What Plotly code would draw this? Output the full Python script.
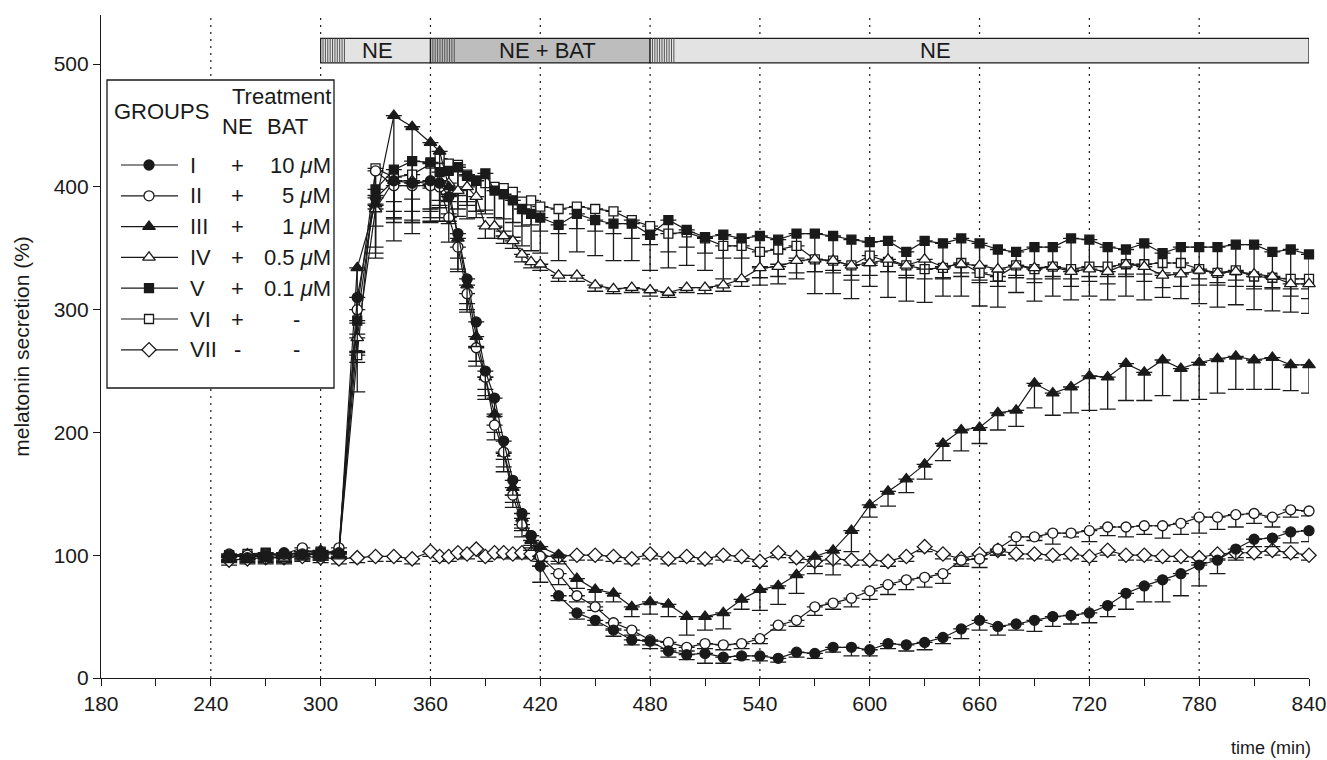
import plotly.graph_objects as go

# ---------------- data ----------------
times = ([250, 260, 270, 280, 290, 300, 310, 320, 330, 340, 350, 360]
         + list(range(365, 421, 5)) + list(range(430, 841, 10)))

grp_I = [100, 98, 100, 102, 101, 100, 102, 310, 391, 405, 403, 405,
         403, 392, 362, 325, 290, 250, 228, 193, 161, 134, 116, 91,
         67, 53, 47, 39, 31, 30, 22, 19, 20, 17, 18, 18, 16, 21, 20, 25, 25, 23,
         28, 27, 29, 33, 40, 47, 42, 44, 47, 50, 51, 53, 59, 69, 75, 80, 85, 92, 96, 105, 113, 114, 119, 120]
err_I = [4, 4, 4, 4, 4, 4, 4, 30, 40, 25, 30, 25,
         20, 20, 20, 20, 20, 15, 15, 15, 12, 12, 10, 13,
         4, 5, 4, 5, 4, 6, 5, 4, 8, 5, 3, 4, 3, 4, 4, 4, 7, 5,
         4, 5, 6, 5, 8, 8, 7, 5, 9, 8, 7, 8, 9, 13, 13, 18, 18, 17, 11, 9, 6, 7, 9, 9]

grp_II = [101, 100, 101, 101, 106, 99, 106, 300, 413, 401, 401, 401,
          400, 375, 351, 313, 269, 245, 206, 184, 149, 125, 116, 99,
          85, 67, 58, 45, 39, 31, 29, 25, 28, 27, 28, 32, 43, 47, 58, 61, 65, 71,
          76, 80, 82, 85, 96, 97, 105, 115, 115, 118, 118, 120, 123, 123, 124, 124, 126, 131, 131, 133, 134, 131, 137, 136]
err_II = [3, 3, 3, 3, 3, 3, 3, 35, 20, 30, 30, 30,
          25, 20, 20, 15, 15, 15, 12, 12, 10, 10, 8, 8,
          9, 5, 3, 5, 4, 4, 5, 3, 4, 4, 4, 4, 4, 5, 7, 5, 7, 7,
          8, 8, 8, 8, 5, 7, 5, 7, 3, 9, 3, 9, 7, 8, 7, 10, 9, 13, 10, 10, 8, 8, 6, 4]

grp_III = [99, 101, 97, 100, 103, 104, 101, 334, 386, 458, 449, 436,
           429, 400, 358, 320, 278, 245, 215, 183, 155, 130, 112, 107,
           100, 81, 72, 69, 58, 62, 60, 50, 50, 53, 64, 72, 75, 84, 99, 104, 120, 141,
           152, 162, 174, 191, 202, 204, 216, 218, 240, 232, 237, 246, 245, 256, 249, 259, 252, 257, 260, 262, 259, 261, 255, 255]
err_III = [4, 4, 4, 4, 4, 4, 4, 45, 40, 102, 87, 64,
           40, 30, 25, 20, 20, 18, 15, 15, 12, 10, 8, 8,
           7, 8, 10, 7, 8, 10, 10, 15, 11, 13, 8, 17, 15, 15, 14, 20, 17, 10,
           12, 11, 12, 14, 17, 13, 14, 13, 20, 18, 21, 28, 26, 30, 23, 29, 26, 30, 28, 27, 24, 26, 21, 23]

grp_IV = [98, 100, 99, 97, 100, 101, 103, 277, 382, 405, 405, 402,
          405, 403, 397, 400, 392, 368, 368, 360, 356, 345, 339, 337,
          328, 328, 320, 317, 318, 316, 314, 318, 318, 320, 325, 334, 335, 340, 341, 340, 336, 338,
          341, 336, 341, 335, 337, 336, 333, 336, 334, 335, 331, 333, 331, 337, 335, 328, 329, 332, 330, 331, 329, 327, 321, 321]
err_IV = [4, 4, 4, 4, 4, 4, 4, 20, 40, 30, 25, 20,
          20, 15, 15, 12, 12, 10, 10, 6, 6, 6, 5, 5,
          5, 5, 5, 4, 4, 5, 4, 4, 5, 5, 6, 8, 8, 10, 10, 10, 12, 10,
          10, 10, 8, 10, 10, 12, 10, 10, 12, 10, 12, 10, 10, 10, 12, 10, 10, 12, 10, 12, 12, 10, 10, 12]

grp_V = [100, 99, 101, 99, 101, 102, 102, 291, 398, 414, 421, 420,
         412, 413, 416, 409, 405, 411, 397, 394, 389, 382, 378, 375,
         369, 378, 373, 370, 370, 361, 373, 365, 359, 361, 358, 360, 357, 362, 362, 360, 357, 355,
         356, 347, 356, 354, 358, 354, 349, 347, 351, 351, 358, 357, 351, 349, 354, 346, 351, 351, 351, 353, 353, 347, 349, 345]
err_V = [4, 4, 4, 4, 4, 4, 4, 25, 30, 40, 50, 45,
         40, 35, 40, 35, 30, 30, 30, 30, 30, 30, 30, 29,
         29, 31, 29, 30, 30, 29, 39, 29, 27, 36, 34, 40, 36, 37, 49, 47, 48, 36,
         46, 40, 50, 43, 47, 51, 47, 33, 44, 40, 50, 46, 43, 38, 46, 36, 42, 46, 49, 49, 53, 48, 51, 48]

grp_VI = [99, 101, 102, 99, 103, 103, 102, 263, 415, 408, 410, 419,
          423, 419, 418, 410, 405, 403, 400, 399, 396, 388, 389, 384,
          382, 384, 382, 380, 373, 368, 362, 363, 358, 352, 352, 347, 349, 352, 341, 340, 336, 344,
          339, 336, 333, 334, 338, 330, 327, 336, 333, 335, 333, 335, 335, 337, 337, 338, 338, 333, 330, 332, 327, 326, 325, 325]
err_VI = [4, 4, 4, 4, 4, 4, 4, 30, 30, 20, 20, 20,
          25, 25, 25, 25, 25, 25, 25, 25, 25, 20, 20, 20,
          20, 18, 18, 18, 15, 15, 15, 12, 12, 10, 10, 12, 12, 10, 10, 8, 8, 8,
          8, 8, 8, 8, 8, 8, 8, 8, 8, 8, 8, 8, 8, 8, 8, 8, 8, 8, 8, 8, 8, 8, 8, 8]

grp_VII = [96, 97, 98, 98, 99, 98, 97, 98, 99, 99, 97, 103,
           99, 99, 102, 101, 105, 99, 102, 102, 101, 102, 101, 99,
           99, 100, 100, 99, 97, 101, 97, 99, 97, 100, 99, 95, 102, 98, 95, 97, 96, 96,
           95, 99, 107, 101, 97, 101, 104, 101, 101, 100, 101, 99, 104, 100, 100, 99, 99, 98, 101, 102, 102, 104, 102, 100]
err_VII = [4] * len(times)

group_names = ["I", "II", "III", "IV", "V", "VI", "VII"]
ne_col = ["+", "+", "+", "+", "+", "+", "-"]
bat_col = ["10 <i>μ</i>M", "5 <i>μ</i>M", "1 <i>μ</i>M", "0.5 <i>μ</i>M", "0.1 <i>μ</i>M", "-", "-"]
symbols = ["circle", "circle-open", "triangle-up", "triangle-up-open", "square", "square-open", "diamond-open"]
values = [grp_I, grp_II, grp_III, grp_IV, grp_V, grp_VI, grp_VII]
errors = [err_I, err_II, err_III, err_IV, err_V, err_VI, err_VII]

# treatment phases
phase_start = [300, 360, 480]
phase_end = [360, 480, 840]
phase_label = ["NE", "NE + BAT", "NE"]
phase_label_x = [331, 424, 636]
phase_color = ["#e3e3e3", "#bdbdbd", "#e3e3e3"]

grid_x = [240, 300, 360, 420, 480, 540, 600, 660, 720, 780]
x_ticks = list(range(180, 841, 60))
x_minor = list(range(210, 841, 60))
y_ticks = [0, 100, 200, 300, 400, 500]

FONT = "Liberation Sans, Arial, sans-serif"
INK = "#1a1a1a"


def marker_style(sym):
    filled = not sym.endswith("open")
    base = sym.replace("-open", "")
    size = 10
    if base == "triangle-up":
        size = 11
    if base == "square":
        size = 9
    if base == "diamond":
        size = 11
    return dict(symbol=base, size=size, color=INK if filled else "white",
                line=dict(color=INK, width=1.3))


fig = go.Figure()

order = [6, 5, 4, 3, 2, 1, 0]
for i in order:
    fig.add_trace(go.Scatter(
        x=times, y=values[i], mode="lines+markers", name=group_names[i],
        line=dict(color=INK, width=1.2),
        marker=marker_style(symbols[i]),
        error_y=dict(type="data", symmetric=False, array=[0] * len(times),
                     arrayminus=errors[i], color=INK, thickness=1.3, width=8),
        cliponaxis=False, showlegend=False, hoverinfo="skip"))

shapes = []
for gx in grid_x:
    shapes.append(dict(type="line", xref="x", yref="y", x0=gx, x1=gx, y0=0, y1=540,
                       line=dict(color=INK, width=1.2, dash="2px,5px"), layer="below"))

bar_lo, bar_hi = 501, 521
for s, e, c in zip(phase_start, phase_end, phase_color):
    shapes.append(dict(type="rect", xref="x", yref="y", x0=s, x1=e, y0=bar_lo, y1=bar_hi,
                       fillcolor=c, line=dict(color=INK, width=1.2), layer="below"))
    for k in range(1, 10):
        hx = s + 1.3 * k
        shapes.append(dict(type="line", xref="x", yref="y", x0=hx, x1=hx, y0=bar_lo, y1=bar_hi,
                           line=dict(color="#555555", width=1), layer="below"))
    shapes.append(dict(type="line", xref="x", yref="y", x0=s + 13, x1=s + 13, y0=bar_lo, y1=bar_hi,
                       line=dict(color="#555555", width=1), layer="below"))

shapes.append(dict(type="rect", xref="x2", yref="y2", x0=107, x1=334, y0=80, y1=388,
                   fillcolor="white", line=dict(color=INK, width=1.3), layer="below"))

annotations = []
for lx, lab in zip(phase_label_x, phase_label):
    annotations.append(dict(x=lx, y=(bar_lo + bar_hi) / 2, xref="x", yref="y", text=lab,
                            showarrow=False, font=dict(family=FONT, size=22, color=INK),
                            xanchor="center", yanchor="middle"))

leg_font = dict(family=FONT, size=22, color=INK)
annotations += [
    dict(x=112, y=111, xref="x2", yref="y2", text="GROUPS", showarrow=False, font=leg_font,
         xanchor="left", yanchor="middle"),
    dict(x=333, y=96, xref="x2", yref="y2", text="Treatment", showarrow=False, font=leg_font,
         xanchor="right", yanchor="middle"),
    dict(x=237, y=126, xref="x2", yref="y2", text="NE", showarrow=False, font=leg_font,
         xanchor="center", yanchor="middle"),
    dict(x=287, y=126, xref="x2", yref="y2", text="BAT", showarrow=False, font=leg_font,
         xanchor="center", yanchor="middle"),
]
row0, row_step = 165, 30.8
for j in range(7):
    ry = row0 + j * row_step
    fig.add_trace(go.Scatter(
        x=[121, 178], y=[ry, ry], xaxis="x2", yaxis="y2", mode="lines",
        line=dict(color=INK, width=1.2), showlegend=False, hoverinfo="skip", cliponaxis=False))
    fig.add_trace(go.Scatter(
        x=[149], y=[ry], xaxis="x2", yaxis="y2", mode="markers",
        marker=marker_style(symbols[j]), showlegend=False, hoverinfo="skip", cliponaxis=False))
    annotations.append(dict(x=188, y=ry, xref="x2", yref="y2", text=group_names[j],
                            showarrow=False, font=leg_font, xanchor="left", yanchor="middle"))
    annotations.append(dict(x=237, y=ry, xref="x2", yref="y2", text=ne_col[j],
                            showarrow=False, font=leg_font, xanchor="center", yanchor="middle"))
    if bat_col[j] == "-":
        annotations.append(dict(x=296, y=ry, xref="x2", yref="y2", text="-",
                                showarrow=False, font=leg_font, xanchor="center", yanchor="middle"))
    else:
        annotations.append(dict(x=333, y=ry, xref="x2", yref="y2", text=bat_col[j],
                                showarrow=False, font=leg_font, xanchor="right", yanchor="middle"))

annotations.append(dict(x=1.003, y=-0.106, xref="paper", yref="paper", text="time (min)",
                        showarrow=False, font=dict(family=FONT, size=18, color=INK),
                        xanchor="right", yanchor="middle"))
annotations.append(dict(x=-0.066, y=0.5, xref="paper", yref="paper", text="melatonin secretion (%)",
                        showarrow=False, textangle=-90, font=dict(family=FONT, size=21, color=INK),
                        xanchor="center", yanchor="middle"))

fig.update_layout(
    width=1327, height=760,
    margin=dict(l=101, r=18, t=15, b=82, autoexpand=False),
    paper_bgcolor="white", plot_bgcolor="white",
    font=dict(family=FONT, size=21, color=INK),
    showlegend=False,
    shapes=shapes, annotations=annotations,
    xaxis=dict(range=[180, 840], tickvals=x_ticks, ticks="outside", ticklen=7, tickwidth=1.2,
               tickcolor=INK, showline=True, linecolor=INK, linewidth=1.2, showgrid=False,
               zeroline=False, automargin=False, tickfont=dict(family=FONT, size=21, color=INK),
               minor=dict(tickvals=x_minor, ticks="outside", ticklen=7, tickwidth=1.2, tickcolor=INK)),
    yaxis=dict(range=[0, 540], tickvals=y_ticks, ticks="outside", ticklen=7, tickwidth=1.2,
               tickcolor=INK, showline=True, linecolor=INK, linewidth=1.2, showgrid=False,
               zeroline=False, automargin=False, tickfont=dict(family=FONT, size=21, color=INK)),
    xaxis2=dict(range=[101, 1309], overlaying="x", visible=False, fixedrange=True, automargin=False),
    yaxis2=dict(range=[678, 15], overlaying="y", visible=False, fixedrange=True, anchor="x2",
                automargin=False),
)

post = ("document.body.style.margin='0';document.body.style.padding='0';"
        "document.body.style.overflow='hidden';")
fig.write_html("out.html", post_script=post, config={"displayModeBar": False})
